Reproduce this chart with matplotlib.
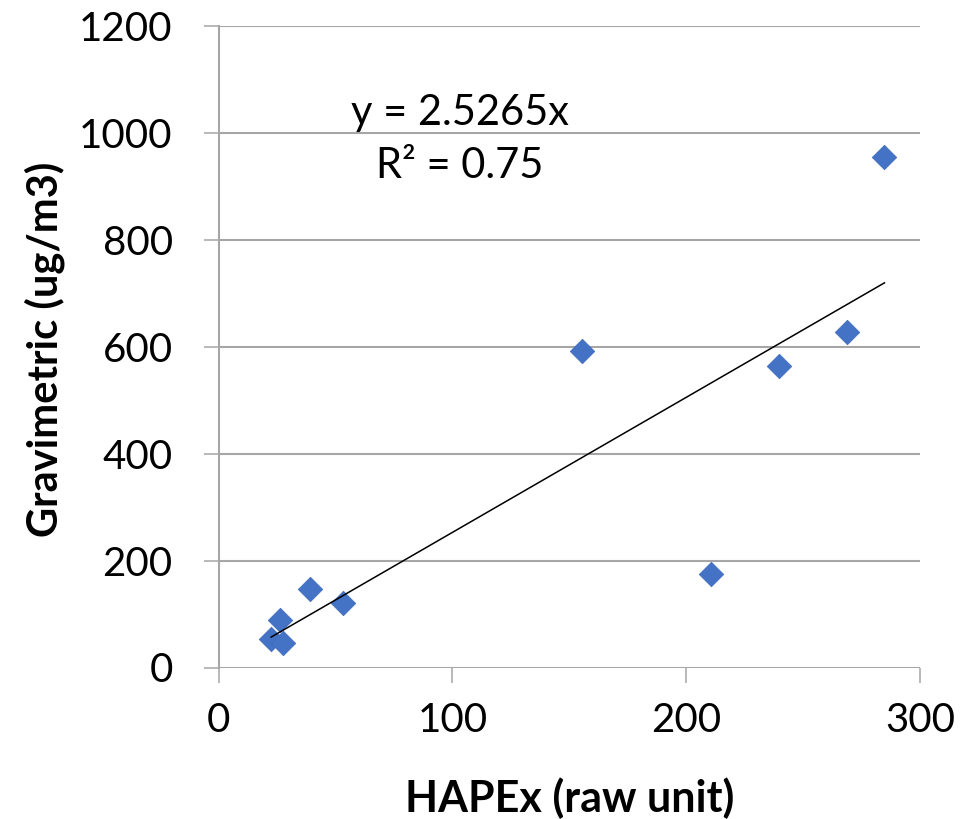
import matplotlib
matplotlib.use("Agg")
import matplotlib.pyplot as plt
import numpy as np

plt.rcParams['font.family'] = ['Lato', 'DejaVu Sans']

# Data
hapex = [22.5, 27.6, 26.3, 39.1, 53.1, 155.6, 210.5, 239.9, 268.9, 284.8]
gravimetric = [53, 46, 89, 147, 121, 592, 175, 564, 628, 955]
slope = 2.5265
r2_text = "R² = 0.75"
eq_text = "y = 2.5265x"
x_ticks = [0, 100, 200, 300]
y_ticks = [0, 200, 400, 600, 800, 1000, 1200]
x_label = "HAPEx (raw unit)"
y_label = "Gravimetric (ug/m3)"

W, H = 966, 819
fig = plt.figure(figsize=(W / 100, H / 100), dpi=100)
left, right, bottom, top = 218.5, 920, 667.5, 26
ax = fig.add_axes([left / W, 1 - bottom / H, (right - left) / W, (bottom - top) / H])

grid_c = '#A6A6A6'
ax.set_xlim(0, 300)
ax.set_ylim(0, 1200)
ax.set_xticks(x_ticks)
ax.set_yticks(y_ticks)
ax.yaxis.grid(True, color=grid_c, linewidth=1.5)
ax.set_axisbelow(True)
for s in ['top', 'right', 'bottom']:
    ax.spines[s].set_visible(False)
ax.spines['left'].set_color(grid_c)
ax.spines['left'].set_linewidth(1.5)
ax.tick_params(axis='both', direction='out', length=11, width=1.1, color=grid_c,
               labelsize=29, labelcolor='black')
ax.tick_params(axis='y', pad=22)
ax.tick_params(axis='x', pad=14)

ax.scatter(hapex, gravimetric, marker='D', s=12.5 ** 2, color='#4472C4',
           edgecolors='#3F6BBE', linewidths=0.5, zorder=3)

xs = np.array([min(hapex), max(hapex)])
ax.plot(xs, slope * xs, color='black', linewidth=1.1, zorder=4)

ax.text(103.3, 1037, eq_text, ha='center', va='center', fontsize=30)
ax.text(103.3, 938, r2_text, ha='center', va='center', fontsize=30)

fig.text((left + right) / 2 / W, 1 - 798 / H, x_label, ha='center', va='center',
         fontsize=31, fontweight='bold')
fig.text(45 / W, 1 - 349 / H, y_label, ha='center', va='center', rotation=90,
         fontsize=30, fontweight='bold')

fig.savefig('out.png', dpi=100, facecolor='white')
